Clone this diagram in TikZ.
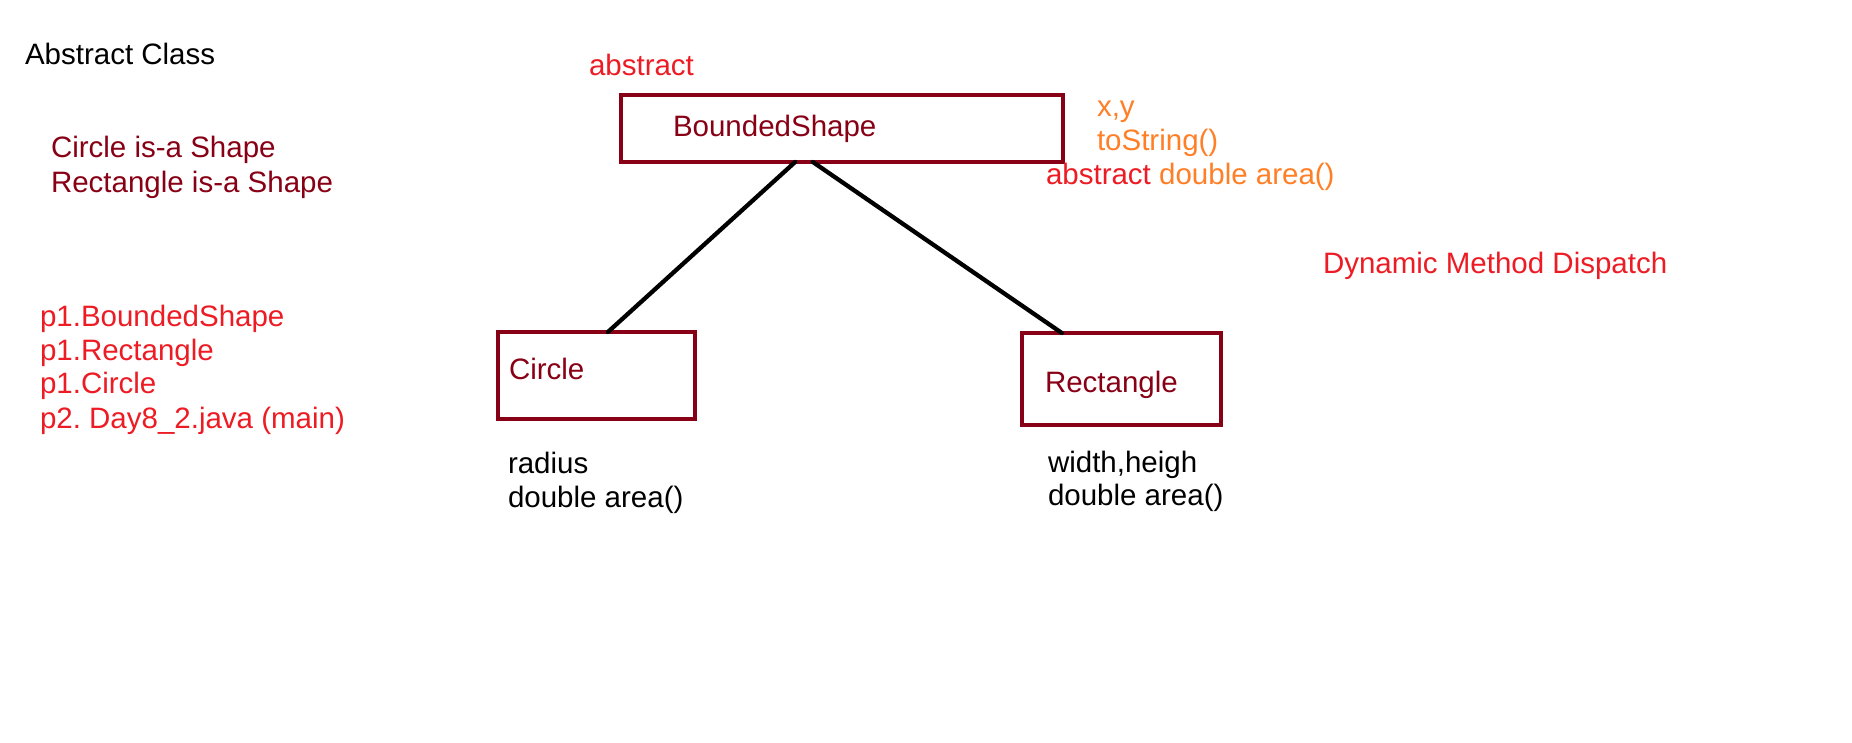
\documentclass[tikz,border=0pt]{standalone}
\usepackage{fontspec}
\setmainfont{Liberation Sans}
\usetikzlibrary{calc}
\definecolor{maroon}{HTML}{880015}
\definecolor{pred}{HTML}{ED1C24}
\definecolor{porange}{HTML}{FF7F27}
\frenchspacing
\tikzset{
  txt/.style={inner sep=0pt, outer sep=0pt, anchor=base west, font=\fontsize{29.5}{34}\selectfont},
  classbox/.style={draw=maroon, line width=4.5pt, inner sep=0pt, outer sep=0pt, anchor=north west},
  link/.style={draw=black, line width=4.3pt, line cap=round}
}
\begin{document}
\begin{tikzpicture}[x=1pt, y=-1pt]
\fill[white] (0,0) rectangle (1852,743);
\useasboundingbox (0,0) rectangle (1852,743);

% boxes
\node[classbox, minimum width=442pt, minimum height=67pt] (bs) at (621,95) {};
\node[classbox, minimum width=197pt, minimum height=87pt] (ci) at (498,332) {};
\node[classbox, minimum width=199pt, minimum height=92pt] (re) at (1022,333) {};

% connectors
\draw[link] ($(bs.south west)!0.394!(bs.south east)$) -- ($(ci.north west)!0.558!(ci.north east)$);
\draw[link] ($(bs.south west)!0.434!(bs.south east)$) -- ($(re.north west)!0.20!(re.north east)$);

% box texts
\node[txt, text=maroon] (bsname) at (673,137) {BoundedShape};
\node[txt, text=maroon] (ciname) at (509,379) {Circle};
\node[txt, text=maroon] (rename) at (1045,392) {Rectangle};

% left notes
\node[txt, text=black] (title) at (25,65) {Abstract Class};
\node[txt, text=maroon] (isa1) at (51,158) {Circle is-a Shape};
\node[txt, text=maroon] (isa2) at (51,193) {Rectangle is-a Shape};
\node[txt, text=pred] (pk1) at (40,326) {p1.BoundedShape};
\node[txt, text=pred] (pk2) at (40,360) {p1.Rectangle};
\node[txt, text=pred] (pk3) at (40,393) {p1.Circle};
\node[txt, text=pred] (pk4) at (40,428) {p2. Day8\_2.java (main)};

% BoundedShape annotations
\node[txt, text=pred] (abs) at (589,76) {abstract};
\node[txt, text=porange] (m1) at (1097,117) {x,y};
\node[txt, text=porange] (m2) at (1097,151) {toString()};
\node[txt, text=pred] (m3) at (1046,185) {abstract \textcolor{porange}{double area()}};

\node[txt, text=pred] (dmd) at (1323,273) {Dynamic Method Dispatch};

% Circle members
\node[txt, text=black] (c1) at (508,473) {radius};
\node[txt, text=black] (c2) at (508,507) {double area()};

% Rectangle members
\node[txt, text=black] (r1) at (1048,472) {width,heigh};
\node[txt, text=black] (r2) at (1048,505) {double area()};
\end{tikzpicture}
\end{document}
